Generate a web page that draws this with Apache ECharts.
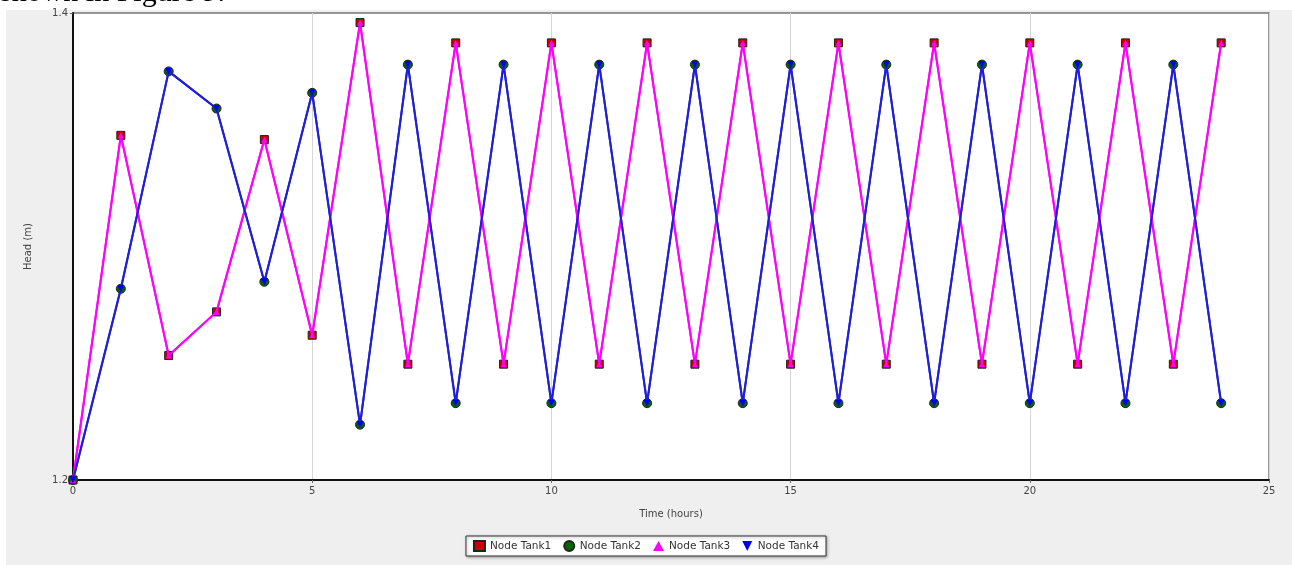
<!DOCTYPE html>
<html>
<head>
<meta charset="utf-8">
<script src="https://cdn.jsdelivr.net/npm/echarts@6/dist/echarts.min.js"></script>
<style>
html,body{margin:0;padding:0;background:#fff;}
#c{width:1292px;height:565px;}
</style>
</head>
<body>
<div id="c"></div>
<script>
var hours = [0,1,2,3,4,5,6,7,8,9,10,11,12,13,14,15,16,17,18,19,20,21,22,23,24];
var tank1 = [1.2,1.3476,1.2533,1.272,1.3458,1.262,1.3959,1.2496,1.3872,1.2496,1.3872,1.2496,1.3872,1.2496,1.3872,1.2496,1.3872,1.2496,1.3872,1.2496,1.3872,1.2496,1.3872,1.2496,1.3872];
var tank2 = [1.2,1.2819,1.375,1.3591,1.2849,1.3658,1.2237,1.3779,1.2329,1.3779,1.2329,1.3779,1.2329,1.3779,1.2329,1.3779,1.2329,1.3779,1.2329,1.3779,1.2329,1.3779,1.2329,1.3779,1.2329];
var tank3 = [1.2,1.3476,1.2533,1.272,1.3458,1.262,1.3959,1.2496,1.3872,1.2496,1.3872,1.2496,1.3872,1.2496,1.3872,1.2496,1.3872,1.2496,1.3872,1.2496,1.3872,1.2496,1.3872,1.2496,1.3872];
var tank4 = [1.2,1.2819,1.375,1.3591,1.2849,1.3658,1.2237,1.3779,1.2329,1.3779,1.2329,1.3779,1.2329,1.3779,1.2329,1.3779,1.2329,1.3779,1.2329,1.3779,1.2329,1.3779,1.2329,1.3779,1.2329];
var seriesNames = ['Node Tank1','Node Tank2','Node Tank3','Node Tank4'];
var xTicks = [0,5,10,15,20,25];
var yTicks = [1.2,1.4];

function pairs(vals){ return hours.map(function(h,i){ return [h, vals[i]]; }); }
var downTri = 'path://M0,0 L10,0 L5,10 Z';

var chart = echarts.init(document.getElementById('c'), null, {renderer:'canvas'});
var axisFont = {fontFamily:'DejaVu Sans', fontSize:10, color:'#444'};
chart.setOption({
  animation:false,
  backgroundColor:'#fff',
  graphic:[
    {type:'text', x:0, y:-7, z:-20, style:{text:'shown in Figure 9.', font:'30px "Liberation Serif"', fill:'#000', verticalAlign:'middle', align:'left'}},
    {type:'rect', z:-10, shape:{x:6,y:10,width:1286,height:555}, style:{fill:'#efefef'}}
  ],
  grid:{left:73, right:23, top:13, bottom:85, show:true, backgroundColor:'#fff', borderColor:'#777', borderWidth:1.5},
  xAxis:{
    type:'value', min:0, max:25, interval:5,
    name:'Time (hours)', nameLocation:'middle', nameGap:29,
    nameTextStyle:axisFont,
    axisLine:{show:true, lineStyle:{color:'#111', width:2}},
    axisTick:{show:true, length:3, lineStyle:{color:'#666'}},
    axisLabel:Object.assign({margin:6, formatter:function(v){return xTicks.indexOf(v)>=0?String(v):'';}}, axisFont),
    splitLine:{show:true, lineStyle:{color:'#d6d6d6', width:1}}
  },
  yAxis:{
    type:'value', min:1.2, max:1.4, interval:0.2,
    name:'Head (m)', nameLocation:'middle', nameGap:40,
    nameTextStyle:axisFont,
    axisLine:{show:true, lineStyle:{color:'#111', width:2}},
    axisTick:{show:true, length:3, lineStyle:{color:'#666'}},
    axisLabel:Object.assign({margin:5, formatter:function(v){var r=Math.round(v*10)/10; return yTicks.indexOf(r)>=0?r.toFixed(1):'';}}, axisFont),
    splitLine:{show:false}
  },
  legend:{
    bottom:9, left:'center',
    data:[
      {name:seriesNames[0], icon:'rect'},
      {name:seriesNames[1], icon:'circle'},
      {name:seriesNames[2], icon:'triangle'},
      {name:seriesNames[3], icon:downTri}
    ],
    backgroundColor:'#fff', borderColor:'#333', borderWidth:1,
    padding:[4,7,4,7], itemGap:12, itemWidth:11, itemHeight:10,
    shadowBlur:3, shadowColor:'rgba(0,0,0,0.35)', shadowOffsetX:1, shadowOffsetY:1,
    textStyle:{fontFamily:'DejaVu Sans', fontSize:10.5, color:'#333'}
  },
  series:[
    {name:seriesNames[0], type:'line', data:pairs(tank1), symbol:'rect', symbolSize:8,
     lineStyle:{color:'#ff00ff', width:2}, itemStyle:{color:'#cc0000', borderColor:'#222', borderWidth:1}, z:2},
    {name:seriesNames[1], type:'line', data:pairs(tank2), symbol:'circle', symbolSize:9,
     lineStyle:{color:'#1f1fd8', width:2}, itemStyle:{color:'#006600', borderColor:'#222', borderWidth:1}, z:2},
    {name:seriesNames[2], type:'line', data:pairs(tank3), symbol:'triangle', symbolSize:6, showSymbol:true,
     lineStyle:{color:'#ff00ff', width:2}, itemStyle:{color:'#ff00ff'}, z:5},
    {name:seriesNames[3], type:'line', data:pairs(tank4), symbol:downTri, symbolSize:7, showSymbol:true,
     lineStyle:{color:'#1f1fd8', width:2}, itemStyle:{color:'#0000ee'}, z:5}
  ]
});
</script>
</body>
</html>
